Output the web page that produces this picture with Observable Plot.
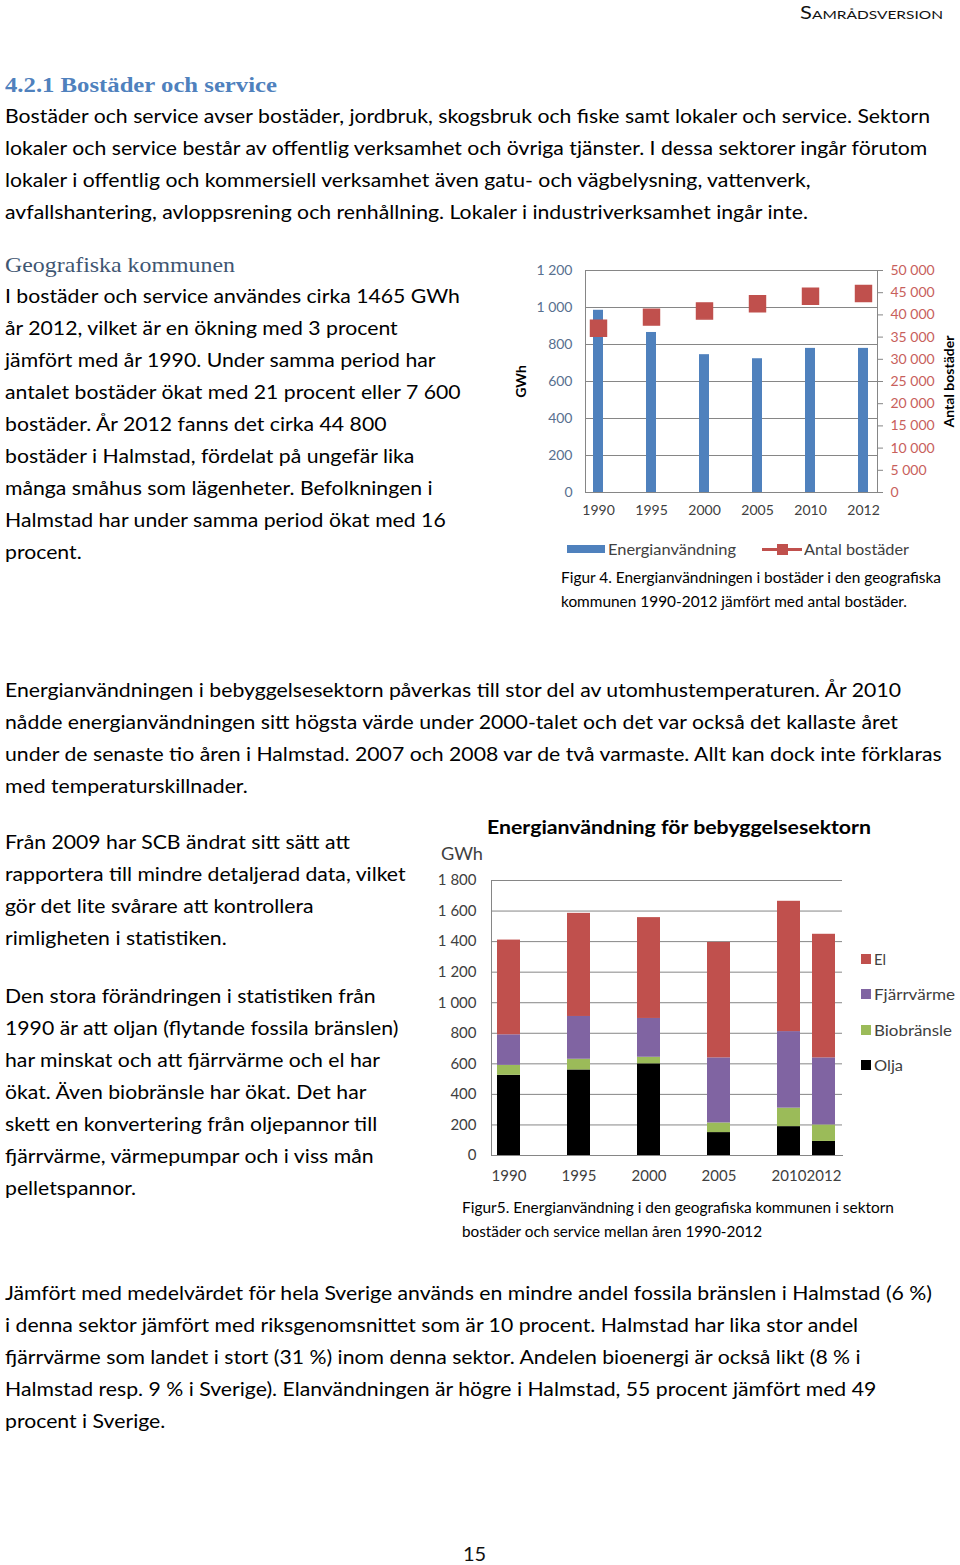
<!DOCTYPE html>
<html><head><meta charset="utf-8">
<script src="https://cdn.jsdelivr.net/npm/d3@7"></script>
<script src="https://cdn.jsdelivr.net/npm/@observablehq/plot@0.6"></script>
<style>
body{margin:0;background:#fff;}
#page{position:relative;width:960px;height:1565px;overflow:hidden;font-family:Lato,"Open Sans",sans-serif;color:#000;background:#fff;}
.t{position:absolute;white-space:nowrap;transform-origin:0 50%;line-height:30px;height:30px;}
.chart{position:absolute;}
</style></head><body><div id="page"></div><script>
// ---------- data: chart 1 ----------
const years1 = ["1990","1995","2000","2005","2010","2012"];
const energi1 = [985, 865, 745, 723, 779, 779];          // GWh
const bostader1 = [37000, 39500, 40900, 42500, 44200, 44800]; // antal bostäder
const leftTicks1 = [0,200,400,600,800,1000,1200];
const rightTicks1 = [0,5000,10000,15000,20000,25000,30000,35000,40000,45000,50000];

// ---------- data: chart 2 ----------
const years2 = ["1990","1995","2000","2005","2010","2012"];
const fuels2 = ["Olja","Biobränsle","Fjärrvärme","El"];
const colors2 = ["#000000","#9bbb59","#8064a2","#c0504d"];
const olja2 = [525, 560, 600, 150, 189, 92];
const bio2 = [65, 70, 43, 63, 121, 108];
const fjv2 = [200, 280, 254, 426, 501, 439];
const el2 = [620, 675, 660, 756, 853, 809];
const yTicks2 = [0,200,400,600,800,1000,1200,1400,1600,1800];

// ---------- text ----------
const para1 = [
 "Bostäder och service avser bostäder, jordbruk, skogsbruk och fiske samt lokaler och service. Sektorn",
 "lokaler och service består av offentlig verksamhet och övriga tjänster. I dessa sektorer ingår förutom",
 "lokaler i offentlig och kommersiell verksamhet även gatu- och vägbelysning, vattenverk,",
 "avfallshantering, avloppsrening och renhållning. Lokaler i industriverksamhet ingår inte."
];
const para2 = [
 "I bostäder och service användes cirka 1465 GWh",
 "år 2012, vilket är en ökning med 3 procent",
 "jämfört med år 1990. Under samma period har",
 "antalet bostäder ökat med 21 procent eller 7 600",
 "bostäder. År 2012 fanns det cirka 44 800",
 "bostäder i Halmstad, fördelat på ungefär lika",
 "många småhus som lägenheter. Befolkningen i",
 "Halmstad har under samma period ökat med 16",
 "procent."
];
const para3 = [
 "Energianvändningen i bebyggelsesektorn påverkas till stor del av utomhustemperaturen.  År 2010",
 "nådde energianvändningen sitt högsta värde under 2000-talet och det var också det kallaste året",
 "under de senaste tio åren i Halmstad. 2007 och 2008 var de två varmaste. Allt kan dock inte förklaras",
 "med temperaturskillnader."
];
const para4 = [
 "Från 2009 har SCB ändrat sitt sätt att",
 "rapportera till mindre detaljerad data, vilket",
 "gör det lite svårare att kontrollera",
 "rimligheten i statistiken."
];
const para5 = [
 "Den stora förändringen i statistiken från",
 "1990 är att oljan (flytande fossila bränslen)",
 "har minskat och att fjärrvärme och el har",
 "ökat. Även biobränsle har ökat. Det har",
 "skett en konvertering från oljepannor till",
 "fjärrvärme, värmepumpar och i viss mån",
 "pelletspannor."
];
const para6 = [
 "Jämfört med medelvärdet för hela Sverige används en mindre andel fossila bränslen i Halmstad (6 %)",
 "i denna sektor jämfört med riksgenomsnittet som är 10 procent.  Halmstad har lika stor andel",
 "fjärrvärme som landet i stort (31 %) inom denna sektor. Andelen bioenergi är också likt (8 % i",
 "Halmstad resp. 9 % i Sverige). Elanvändningen är högre i Halmstad, 55 procent jämfört med 49",
 "procent i Sverige."
];

const page = document.getElementById("page");
function line(txt, x, y, size, extra) {
  const d = document.createElement("div");
  d.className = "t"; d.textContent = txt;
  d.style.left = x + "px"; d.style.top = (y - 15) + "px"; d.style.fontSize = size + "px";
  if (extra) Object.assign(d.style, extra);
  page.appendChild(d); return d;
}
function block(lines, x, y0, size, step) {
  return lines.map((s, i) => line(s, x, y0 + i * step, size));
}
const fits = [];
function fit(el, target) { fits.push([el, target]); return el; }

const BODY = 19.5;
const body = [];
body.push(...block(para1, 5, 116, BODY, 32));
body.push(...block(para2, 5, 296, BODY, 32));
body.push(...block(para3, 5, 690, BODY, 32));
body.push(...block(para4, 5, 842, BODY, 32));
body.push(...block(para5, 5, 996, BODY, 32));
body.push(...block(para6, 5, 1293, BODY, 32));

fit(line("4.2.1 Bostäder och service", 5, 85, 22, {fontFamily:"'Liberation Serif',serif", fontWeight:"bold", color:"#4f81bd"}), 272);
fit(line("Geografiska kommunen", 5, 265, 22, {fontFamily:"'Liberation Serif',serif", color:"#3f5672"}), 230);
fit(line("Samrådsversion", 800, 13, 17, {fontVariant:"small-caps", color:"#111"}), 143);
line("15", 463, 1553, 20, {color:"#111", lineHeight:"22px", height:"22px", top:"1542px"});

// captions
fit(line("Figur 4. Energianvändningen i bostäder i den geografiska", 561, 577, 15), 380);
fit(line("kommunen 1990-2012 jämfört med antal bostäder.", 561, 601, 15), 346);
fit(line("Figur5. Energianvändning i den geografiska kommunen i sektorn", 462, 1207, 15), 432);
fit(line("bostäder och service mellan åren 1990-2012", 462, 1231, 15), 300);

// ---------- chart 1 ----------
const loc = d3.formatLocale({decimal:",", thousands:"\u00a0", grouping:[3], currency:["",""]});
const fmt = loc.format(",d");
const k = 1200 / 50000;
const data1 = years1.map((y, i) => ({year: y, gwh: energi1[i], bost: bostader1[i]}));

const chart1 = Plot.plot({
  width: 450, height: 270,
  marginLeft: 75, marginRight: 83, marginTop: 15, marginBottom: 33,
  style: {fontFamily: "Lato, sans-serif", fontSize: "14px", background: "transparent", overflow: "visible"},
  x: {type: "band", domain: years1, paddingInner: 0.811, paddingOuter: 0.16, label: null},
  y: {domain: [0, 1200], label: null},
  marks: [
    Plot.gridY(leftTicks1, {stroke: "#868686", strokeOpacity: 1}),
    Plot.frame({stroke: "#868686"}),
    Plot.barY(data1, {x: "year", y: "gwh", fill: "#4f81bd"}),
    Plot.dot(data1, {x: "year", y: d => d.bost * k, symbol: "square", r: 9, fill: "#c0504d", stroke: "#c0504d"}),
    Plot.axisY(leftTicks1, {anchor: "left", tickSize: 0, tickPadding: 13, tickFormat: fmt, fill: "#58708f", label: null}),
    Plot.axisY(rightTicks1.map(v => v * k), {anchor: "right", tickSize: 5, tickPadding: 8, stroke: "#868686",
      tickFormat: d => fmt(Math.round(d / k)), fill: "#c8605c", label: null}),
    Plot.axisX({tickSize: 0, tickPadding: 13, fill: "#404040", label: null}),
    Plot.text(["GWh"], {frameAnchor: "left", textAnchor: "middle", dx: -64, rotate: -90, fontWeight: "bold", fill: "#000", fontSize: 14}),
    Plot.text(["Antal bostäder"], {frameAnchor: "right", textAnchor: "middle", dx: 72, rotate: -90, fontWeight: "bold", fill: "#000", fontSize: 14})
  ]
});
chart1.classList.add("chart");
chart1.style.left = "510px"; chart1.style.top = "255px";
page.appendChild(chart1);

// legend chart 1
function box(x, y, w, h, c) {
  const d = document.createElement("div");
  Object.assign(d.style, {position:"absolute", left:x+"px", top:y+"px", width:w+"px", height:h+"px", background:c});
  page.appendChild(d); return d;
}
box(567, 545, 38, 8, "#4f81bd");
fit(line("Energianvändning", 608, 549, 15, {color:"#404040"}), 128);
box(762, 548, 40, 3, "#c0504d");
box(777, 544, 11, 11, "#c0504d");
fit(line("Antal bostäder", 804, 549, 15, {color:"#404040"}), 105);

// ---------- chart 2 ----------
const series2 = [olja2, bio2, fjv2, el2];
const data2 = [];
fuels2.forEach((f, j) => years2.forEach((y, i) => data2.push({fuel: f, year: y, value: series2[j][i]})));
// 10 category slots: the Excel axis leaves an empty slot between each 5-year step
const slots2 = years2.flatMap((y, i) => i < 4 ? [y, "_" + i] : [y]);

const chart2 = Plot.plot({
  width: 430, height: 350,
  marginLeft: 61, marginRight: 18, marginTop: 40, marginBottom: 35,
  style: {fontFamily: "Lato, sans-serif", fontSize: "15px", background: "transparent", overflow: "visible"},
  x: {type: "band", domain: slots2, paddingInner: 0.336, paddingOuter: 0.16, label: null},
  y: {domain: [0, 1800], label: null},
  color: {domain: fuels2, range: colors2},
  marks: [
    Plot.gridY(yTicks2, {stroke: "#868686", strokeOpacity: 1}),
    Plot.frame({anchor: "left", stroke: "#868686"}),
    Plot.frame({anchor: "bottom", stroke: "#868686"}),
    Plot.barY(data2, {x: "year", y: "value", fill: "fuel", order: fuels2}),
    Plot.axisY(yTicks2, {tickSize: 0, tickPadding: 15, tickFormat: fmt, fill: "#404040", label: null}),
    Plot.axisX(years2, {tickSize: 0, tickPadding: 15, fill: "#404040", label: null})
  ]
});
chart2.classList.add("chart");
chart2.style.left = "430px"; chart2.style.top = "840px";
page.appendChild(chart2);

fit(line("Energianvändning för bebyggelsesektorn", 487, 827, 19.5, {fontWeight:"bold"}), 384);
fit(line("GWh", 441, 854, 17, {color:"#404040"}), 42);
// legend chart 2 (top to bottom: El, Fjärrvärme, Biobränsle, Olja)
const legY = [959, 994, 1030, 1065];
const legW = [12, 81, 78, 29];
const legItems = fuels2.slice().reverse();
const legCols = colors2.slice().reverse();
legItems.forEach((f, i) => {
  box(861, legY[i] - 5, 10, 10, legCols[i]);
  fit(line(f, 874, legY[i], 15.5, {color:"#404040"}), legW[i]);
});

// ---------- horizontal fit of text to mimic the narrow original font ----------
const w0 = body[0].getBoundingClientRect().width;
const f = 925 / w0;
body.forEach(el => el.style.transform = `scaleX(${f})`);
fits.forEach(([el, target]) => {
  const w = el.getBoundingClientRect().width;
  el.style.transform = `scaleX(${target / w})`;
});
</script></body></html>
